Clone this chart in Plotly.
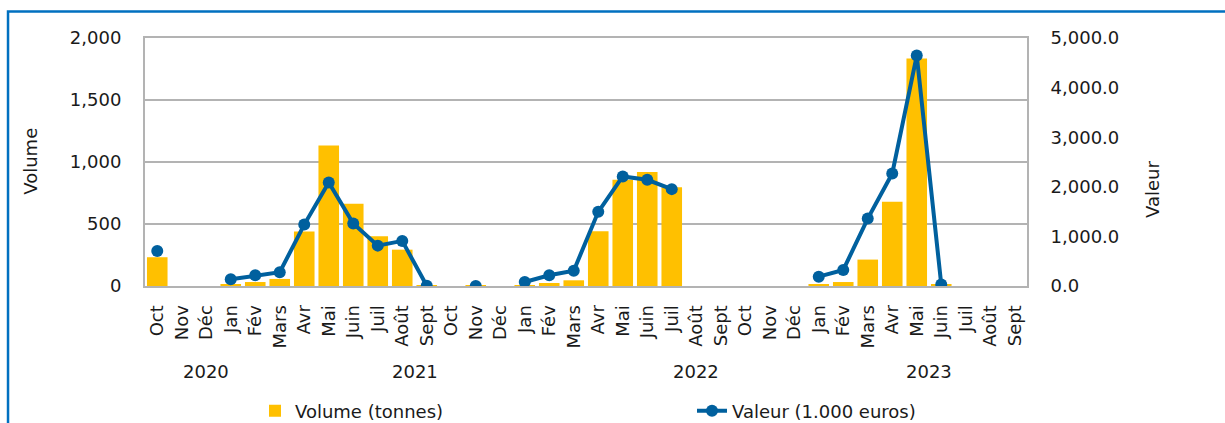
import plotly.graph_objects as go

# Months Oct 2020 -> Sept 2023
months = ["Oct", "Nov", "Déc",
          "Jan", "Fév", "Mars", "Avr", "Mai", "Juin", "Juil", "Août", "Sept", "Oct", "Nov", "Déc",
          "Jan", "Fév", "Mars", "Avr", "Mai", "Juin", "Juil", "Août", "Sept", "Oct", "Nov", "Déc",
          "Jan", "Fév", "Mars", "Avr", "Mai", "Juin", "Juil", "Août", "Sept"]

# Volume (tonnes)
volume = [232, None, None,
          15, 32, 57, 439, 1134, 663, 402, 293, 3, None, 1, None,
          8, 24, 46, 442, 857, 919, 797, None, None, None, None, None,
          16, 32, 213, 679, 1834, 12, None, None, None]

# Valeur (1.000 euros)
valeur = [707, None, None,
          135, 216, 277, 1238, 2087, 1259, 814, 909, 5, None, 0, None,
          81, 216, 309, 1495, 2208, 2141, 1953, None, None, None, None, None,
          188, 323, 1360, 2269, 4646, 30, None, None, None]

year_labels = ["2020", "2021", "2022", "2023"]
year_pos = [2.0, 10.5, 22.0, 31.5]

x = list(range(len(months)))

FONT = "DejaVu Sans"
GRID = "#B3B3B3"
YELLOW = "#FFC000"
BLUE = "#00609E"
TEXT = "#1A1A1A"

fig = go.Figure()
fig.add_trace(go.Bar(
    x=x, y=volume, name="Volume (tonnes)",
    marker=dict(color=YELLOW, line=dict(width=0)),
    yaxis="y",
))
fig.add_trace(go.Scatter(
    x=x, y=valeur, name="Valeur (1.000 euros)",
    mode="lines+markers", connectgaps=False,
    line=dict(color=BLUE, width=4),
    marker=dict(color=BLUE, size=12),
    yaxis="y2",
))

annotations = []
for lab, pos in zip(year_labels, year_pos):
    annotations.append(dict(
        x=pos, xref="x", y=-0.345, yref="paper", text=lab, showarrow=False,
        font=dict(family=FONT, size=18, color=TEXT), xanchor="center", yanchor="middle",
    ))
annotations.append(dict(
    x=-0.1293, xref="paper", y=0.505, yref="paper", text="Volume", textangle=-90,
    showarrow=False, font=dict(family=FONT, size=18, color=TEXT),
    xanchor="center", yanchor="middle",
))
annotations.append(dict(
    x=1.1417, xref="paper", y=0.391, yref="paper", text="Valeur", textangle=-90,
    showarrow=False, font=dict(family=FONT, size=18, color=TEXT),
    xanchor="center", yanchor="middle",
))

# Outer blue frame (left and top edges)
shapes = [dict(
    type="path", xref="paper", yref="paper",
    path="M -0.1553,-1 L -0.1553,1.107 L 1.5,1.107",
    line=dict(color="#0070C0", width=2.5),
)]

fig.update_layout(
    width=1225, height=423,
    margin=dict(l=145, r=198, t=38, b=137),
    paper_bgcolor="white", plot_bgcolor="white",
    font=dict(family=FONT, size=18, color=TEXT),
    bargap=0.16,
    showlegend=True,
    legend=dict(
        orientation="h", xref="container", yref="container",
        x=255 / 1225, xanchor="left", y=12 / 423, yanchor="middle",
        entrywidth=392, entrywidthmode="pixels",
        font=dict(family=FONT, size=18, color=TEXT),
        bgcolor="rgba(0,0,0,0)",
    ),
    xaxis=dict(
        range=[-0.5, 35.5], tickmode="array", tickvals=x, ticktext=months,
        tickangle=-90, showgrid=False, zeroline=False,
        showline=True, linecolor=GRID, linewidth=2, mirror=True,
        ticks="", ticklabelstandoff=10,
        tickfont=dict(family=FONT, size=18, color=TEXT),
    ),
    yaxis=dict(
        range=[0, 2000], dtick=500, tickformat=",",
        showgrid=True, gridcolor=GRID, gridwidth=2, zeroline=False,
        showline=True, linecolor=GRID, linewidth=2,
        ticks="", ticklabelstandoff=18,
        tickfont=dict(family=FONT, size=18, color=TEXT),
    ),
    yaxis2=dict(
        range=[0, 5000], dtick=1000, tickformat=",.1f",
        overlaying="y", side="right", showgrid=False, zeroline=False,
        showline=True, linecolor=GRID, linewidth=2,
        ticks="", ticklabelstandoff=18,
        tickfont=dict(family=FONT, size=18, color=TEXT),
    ),
    annotations=annotations,
    shapes=shapes,
)

fig.write_html("out.html")
